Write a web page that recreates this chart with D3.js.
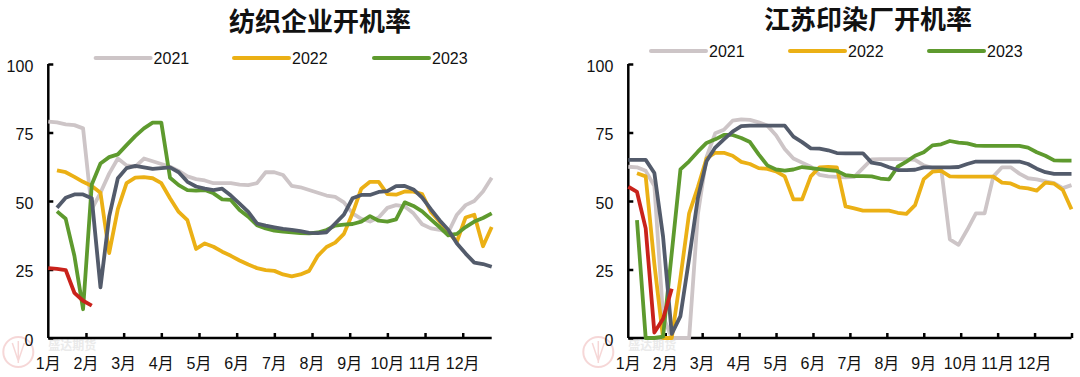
<!DOCTYPE html>
<html><head><meta charset="utf-8">
<script src="https://cdn.jsdelivr.net/npm/d3@7"></script>
<style>
body{margin:0;background:#fff;}
svg{display:block;}
text{font-family:"Liberation Sans","Noto Sans CJK SC",sans-serif;}
.cjk{font-family:"Liberation Sans","Noto Sans CJK SC",sans-serif;}
</style></head>
<body><svg id="c" width="1080" height="377"></svg>
<script>
const years = ["2021","2022","2023","2024","2025"];
const colors = ["#CDC5C7","#EBB015","#5E9A2E","#535B6B","#C9221B"];
const legendYears = ["2021","2022","2023"];
const months = ["1月","2月","3月","4月","5月","6月","7月","8月","9月","10月","11月","12月"];
const yTicks = [0,25,50,75,100];

// 纺织企业开机率 (weekly)
const tex2021 = [79,78.7,78,77.7,76.5,47,53,60,65.5,63,62.5,65.5,64.5,63.5,62.5,61,59,58,57.5,56.5,56.5,56.5,56,55.8,56.5,60.5,60.5,59.5,55.5,55,54,53,52,51.5,49.5,45.5,43.5,42.5,44,47.5,48.5,48,45.5,41.5,40,39.5,38.5,45,48.5,50,53.5,58.5];
const tex2022 = [null,61.2,60.5,58.8,57,55.5,53,31,47,56.5,58.5,58.7,58.3,56.5,51,46,43,32.5,34.5,33.3,31.5,30,28.3,26.8,25.5,24.8,24.5,23.2,22.5,23.2,24.5,30,33.2,34.8,38,45.5,54.5,57,57,52.5,52.3,53.5,53.4,52.5,46,42.5,38.5,35.2,44,45,33.5,40.5];
const tex2023 = [null,46.2,43.5,30,10.5,56,63.7,66,67,70.4,73.7,76.5,78.6,78.6,58.5,55.8,54,53.8,54,52.8,50.6,50.4,46.7,44.3,41.2,40,39.2,38.8,38.6,38.3,38.2,38.5,39.4,41,41.4,41.6,42.5,44.5,42.8,42.5,43.3,49.5,48.2,46.2,43.3,40.5,37.5,38,40.5,42.5,43.8,45.5];
const tex2024 = [null,47.5,51.2,52.4,52.4,51,18.5,44.3,58.3,62,62.8,62.3,61.7,62,62.3,60.5,57,55.3,54.5,54,54.5,52,49,46,41.8,41,40.4,39.8,39.5,39,38.4,38.3,38.6,41.8,45,51,52.2,52.2,53.3,53.6,55.4,55.5,54.2,51.2,47,43,39.5,34.5,30.8,27.5,27,26];
const tex2025 = [25.5,25.2,24.8,16.5,13.6,11.8];

// 江苏印染厂开机率 (weekly)
const js2021 = [62.5,62.3,61,55.5,8,0,0,0,45,66,74.7,76,79.3,79.8,79.6,78.7,77.5,74,69,65.5,64,62.5,59.5,59,58.8,58.6,58.8,62,65.2,65.3,65.3,65.3,65.3,65,63,62,62,36,34,39.5,45.5,45.5,58.9,62.3,62.3,60,58.3,57.9,57.2,56.5,54.7,55.8];
const js2022 = [null,60.1,59,27,0,0,22,45.5,55,65.5,67.6,67.6,66.5,64.3,63.5,62,61.7,60.8,59,50.6,50.6,59,62.3,62.4,62.3,48,47.3,46.5,46.5,46.5,46.5,45.7,45.3,48.5,58,60.7,61,59,58.9,58.9,58.9,58.9,58.9,56.7,56.4,55,54.6,53.8,56.7,56.3,54,47];
const js2023 = [null,43,0,0,0.5,31,61.5,64.5,68,71.2,72.5,74.1,74.1,73,71.5,67,63,61.5,61.1,61.5,62.4,62,61.6,61.3,61,59.4,59.1,59.1,59,58.2,57.9,62.5,64.4,66.5,67.8,70.3,70.7,71.9,71.3,71,70.2,70.1,70.1,70.1,70.1,70.1,69.5,67.8,66.5,64.8,64.7,64.7];
const js2024 = [65,65,65,60.2,37,1.5,8,29,51,64.5,69.5,72.5,75.3,77.3,77.5,77.5,77.5,77.5,77.5,73.5,71.5,69.2,69.1,68.5,67.5,67.4,67.4,67.4,64,63.5,62.3,61.3,61.3,61.4,62.3,62.3,62.3,62.3,62.4,63.5,64.4,64.4,64.4,64.4,64.4,64.4,63.5,61.8,60.5,59.9,59.9,59.9];
const js2025 = [55.2,53.3,40,2,7,18];

const charts = [
  {title:"纺织企业开机率", series:[tex2021,tex2022,tex2023,tex2024,tex2025],
   x0:48.3, x1:491.7, weeksPerMonth:52/12, endTick:false,
   titleX:320, titleY:22, legY:58, legX:[95.6,234,374]},
  {title:"江苏印染厂开机率", series:[js2021,js2022,js2023,js2024,js2025],
   x0:628.3, x1:1071.5, weeksPerMonth:51/12, endTick:true,
   titleX:868, titleY:20, legY:51, legX:[651,790,929]}
];

const svg = d3.select("#c");
const yTop = 64, yBot = 338;

charts.forEach((ch, ci) => {
  const g = svg.append("g");
  const x = d3.scaleLinear().domain([0,51]).range([ch.x0, ch.x1]);
  const y = d3.scaleLinear().domain([0,100]).range([yBot, yTop]);

  // watermark
  const wm = g.append("g").attr("opacity",0.55);
  wm.append("circle").attr("cx", ch.x0-30).attr("cy", 352).attr("r", 15)
    .attr("fill","none").attr("stroke","#F0B8B8").attr("stroke-width",2);
  wm.append("path").attr("d", `M${ch.x0-36},343 l6,18 l6,-18 M${ch.x0-30},341 l0,22`)
    .attr("fill","none").attr("stroke","#F0B8B8").attr("stroke-width",1.5);
  wm.append("text").attr("x", ch.x0).attr("y", 346).attr("font-size",12)
    .attr("dominant-baseline","central")
    .attr("font-weight","bold").attr("fill","#D9D9D9").attr("class","cjk").text("盛达期货");

  // title
  g.append("text").attr("x", ch.titleX).attr("y", ch.titleY).attr("text-anchor","middle")
    .attr("dominant-baseline","central").attr("font-size",26).attr("font-weight","bold")
    .attr("fill","#111").attr("class","cjk").text(ch.title);

  // legend
  legendYears.forEach((yr, i) => {
    const lx = ch.legX[i];
    g.append("line").attr("x1", lx).attr("x2", lx+55).attr("y1", ch.legY).attr("y2", ch.legY)
      .attr("stroke", colors[i]).attr("stroke-width",4).attr("stroke-linecap","round");
    g.append("text").attr("x", lx+58).attr("y", ch.legY).attr("dominant-baseline","central")
      .attr("font-size",16).attr("fill","#111").text(yr);
  });

  // y axis
  const yAxis = d3.axisRight(y).tickValues(yTicks).tickSize(5).tickFormat("");
  const ya = g.append("g").attr("transform",`translate(${ch.x0},0)`).call(yAxis);
  ya.select(".domain").attr("d", `M0,${yTop}V${yBot}`);
  ya.selectAll("line,path").attr("stroke","#000").attr("stroke-width",2.5);
  yTicks.forEach(v => {
    g.append("text").attr("x", ch.x0-15).attr("y", y(v)+2).attr("text-anchor","end")
      .attr("dominant-baseline","central").attr("font-size",16).attr("fill","#111").text(v);
  });

  // x axis
  const tickW = d3.range(1, ch.endTick ? 13 : 12).map(k => k*ch.weeksPerMonth);
  const xAxis = d3.axisTop(x).tickValues(tickW).tickSize(5).tickFormat("");
  const xa = g.append("g").attr("transform",`translate(0,${yBot})`).call(xAxis);
  xa.select(".domain").attr("d", `M${ch.x0},0H${ch.x1}`);
  xa.selectAll("line,path").attr("stroke","#000").attr("stroke-width",2.5);
  months.forEach((m, k) => {
    g.append("text").attr("x", x(k*ch.weeksPerMonth)).attr("y", 363).attr("text-anchor","middle")
      .attr("dominant-baseline","central").attr("font-size",16).attr("fill","#111")
      .attr("class","cjk").text(m);
  });

  // lines
  const line = d3.line().defined(d => d != null).x((d,i) => x(i)).y(d => y(d));
  ch.series.forEach((s, si) => {
    g.append("path").attr("d", line(s)).attr("fill","none").attr("stroke", colors[si])
      .attr("stroke-width",3.8).attr("stroke-linejoin","round").attr("stroke-linecap","butt");
  });
});
</script></body></html>
